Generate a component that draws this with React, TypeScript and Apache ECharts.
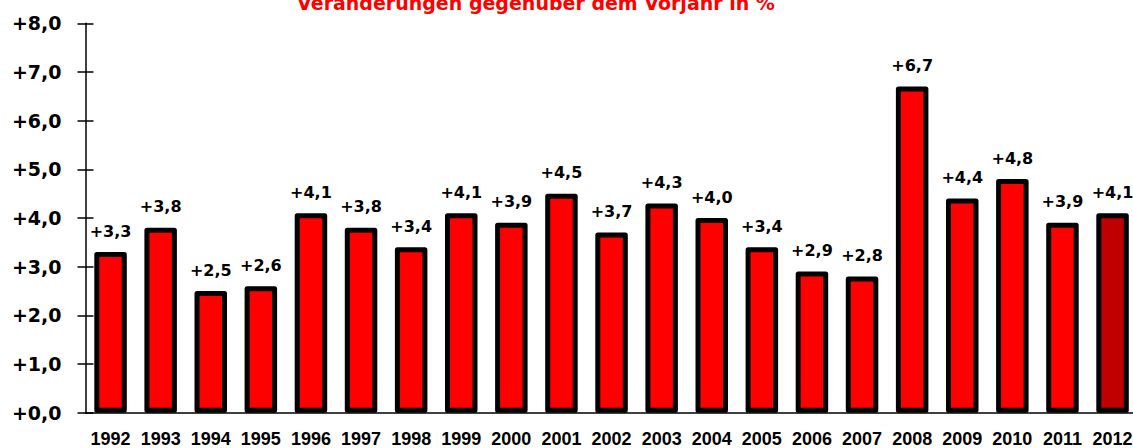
import React, { useEffect, useRef } from "react";
import * as echarts from "echarts";

const years = ["1992","1993","1994","1995","1996","1997","1998","1999","2000","2001","2002","2003","2004","2005","2006","2007","2008","2009","2010","2011","2012"];
const changes = [3.3, 3.8, 2.5, 2.6, 4.1, 3.8, 3.4, 4.1, 3.9, 4.5, 3.7, 4.3, 4.0, 3.4, 2.9, 2.8, 6.7, 4.4, 4.8, 3.9, 4.1];
const highlightYear = "2012";
const titleText = "Veränderungen gegenüber dem Vorjahr in %";

const fmt = (v: number) => "+" + v.toFixed(1).replace(".", ",");

export default function App() {
  const ref = useRef<HTMLDivElement>(null);
  useEffect(() => {
    if (!ref.current) return;
    const chart = echarts.init(ref.current, undefined, { renderer: "svg" });
    const gridBox = { left: 85.5, right: -4.6, top: 23.3, bottom: 35.3, containLabel: false, outerBoundsMode: "none" } as any;
    chart.setOption({
      animation: false,
      backgroundColor: "#ffffff",
      graphic: [
        {
          type: "text",
          x: 536,
          y: 2.5,
          style: {
            text: titleText,
            fill: "#ff0000",
            font: "bold 19px 'DejaVu Sans'",
            textAlign: "center",
            textVerticalAlign: "middle",
          },
        },
      ],
      grid: [gridBox, { ...gridBox }],
      xAxis: [
        {
          type: "category",
          gridIndex: 0,
          data: years,
          axisLine: { lineStyle: { color: "#000", width: 1.5 } },
          axisTick: { show: false },
          axisLabel: {
            color: "#000",
            fontWeight: "bold",
            fontSize: 18,
            lineHeight: 15,
            fontFamily: "'Liberation Sans Narrow', 'Liberation Sans', Arial, sans-serif",
            margin: 19,
            interval: 0,
          },
        },
        { type: "category", gridIndex: 1, data: years, show: false },
      ],
      yAxis: [
        {
          type: "value",
          gridIndex: 0,
          min: 0,
          max: 8,
          interval: 1,
          axisLine: { show: true, lineStyle: { color: "#000", width: 1.5 } },
          axisTick: { show: true, length: 8, lineStyle: { color: "#000", width: 1.5 } },
          splitLine: { show: false },
          axisLabel: {
            color: "#000",
            fontWeight: "bold",
            fontSize: 19,
            fontFamily: "'DejaVu Sans', sans-serif",
            margin: 24,
            formatter: (v: number) => fmt(v),
          },
        },
        {
          type: "value",
          gridIndex: 1,
          min: 0,
          max: 8,
          interval: 1,
          axisLine: { show: false },
          axisTick: { show: true, inside: true, length: 8, lineStyle: { color: "#000", width: 1.5 } },
          splitLine: { show: false },
          axisLabel: { show: false },
        },
      ],
      series: [
        {
          type: "bar",
          xAxisIndex: 0,
          yAxisIndex: 0,
          barWidth: 32.5,
          data: changes.map((v, i) => ({
            value: v,
            itemStyle: { color: years[i] === highlightYear ? "#c00000" : "#ff0000" },
          })),
          itemStyle: { borderColor: "#000", borderWidth: 5, borderJoin: "round" },
          label: {
            show: true,
            position: "top",
            distance: 13,
            color: "#000",
            fontWeight: "bold",
            fontSize: 16,
            fontFamily: "'DejaVu Sans', sans-serif",
            formatter: (p: any) => fmt(p.value),
          },
        },
      ],
    });
    return () => chart.dispose();
  }, []);
  return (
    <div
      ref={ref}
      style={{ position: "absolute", left: 0, top: 0, width: 1133, height: 448 }}
    />
  );
}
